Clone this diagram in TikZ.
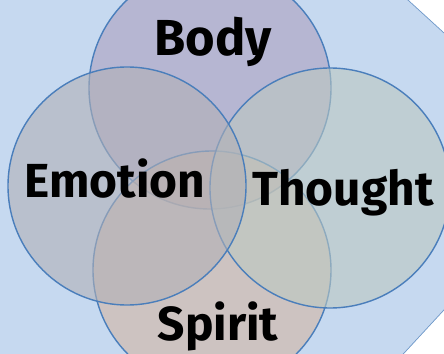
\documentclass[tikz,border=0pt]{standalone}
\usepackage{fontspec}
\setmainfont{Fira Sans}
\definecolor{bgblue}{RGB}{198,217,240}
\definecolor{edgeblue}{RGB}{74,126,187}
\definecolor{bodyfill}{RGB}{172,160,190}
\definecolor{emofill}{RGB}{177,176,182}
\definecolor{thoughtfill}{RGB}{187,200,193}
\definecolor{spiritfill}{RGB}{210,181,163}
\begin{document}
\begin{tikzpicture}[x=0.05cm,y=-0.05cm,
  venn/.style={circle,draw=edgeblue,line width=2pt,fill opacity=0.6,inner sep=0pt},
  word/.style={font=\fontsize{68}{68}\selectfont\bfseries,anchor=base,inner sep=0pt}]
\useasboundingbox (0,0) rectangle (444,354);
\clip (0,0) rectangle (444,354);
% backdrop with cut corners
\fill[bgblue,draw=edgeblue!80,line width=1pt] (-10,-10) -- (397,-10) -- (455,43) -- (455,298) -- (394,364) -- (-10,364) -- cycle;
% four overlapping circles
\node[venn,fill=bodyfill,minimum size=12.1cm] (body) at (210,88) {};
\node[venn,fill=spiritfill,minimum size=11.9cm] (spirit) at (212,270) {};
\node[venn,fill=thoughtfill,minimum size=12cm] (thought) at (330,188) {};
\node[venn,fill=emofill,minimum size=11.9cm] (emotion) at (127,186) {};
% labels
\node[word,font=\fontsize{72}{72}\selectfont\bfseries] (bodytxt) at (213,55) {Body};
\node[word] (emotxt) at (115,197) {Emotion};
\node[word] (thoughttxt) at (343,205) {Thought};
\node[word] (spirittxt) at (218,340) {Spirit};
\end{tikzpicture}
\end{document}
